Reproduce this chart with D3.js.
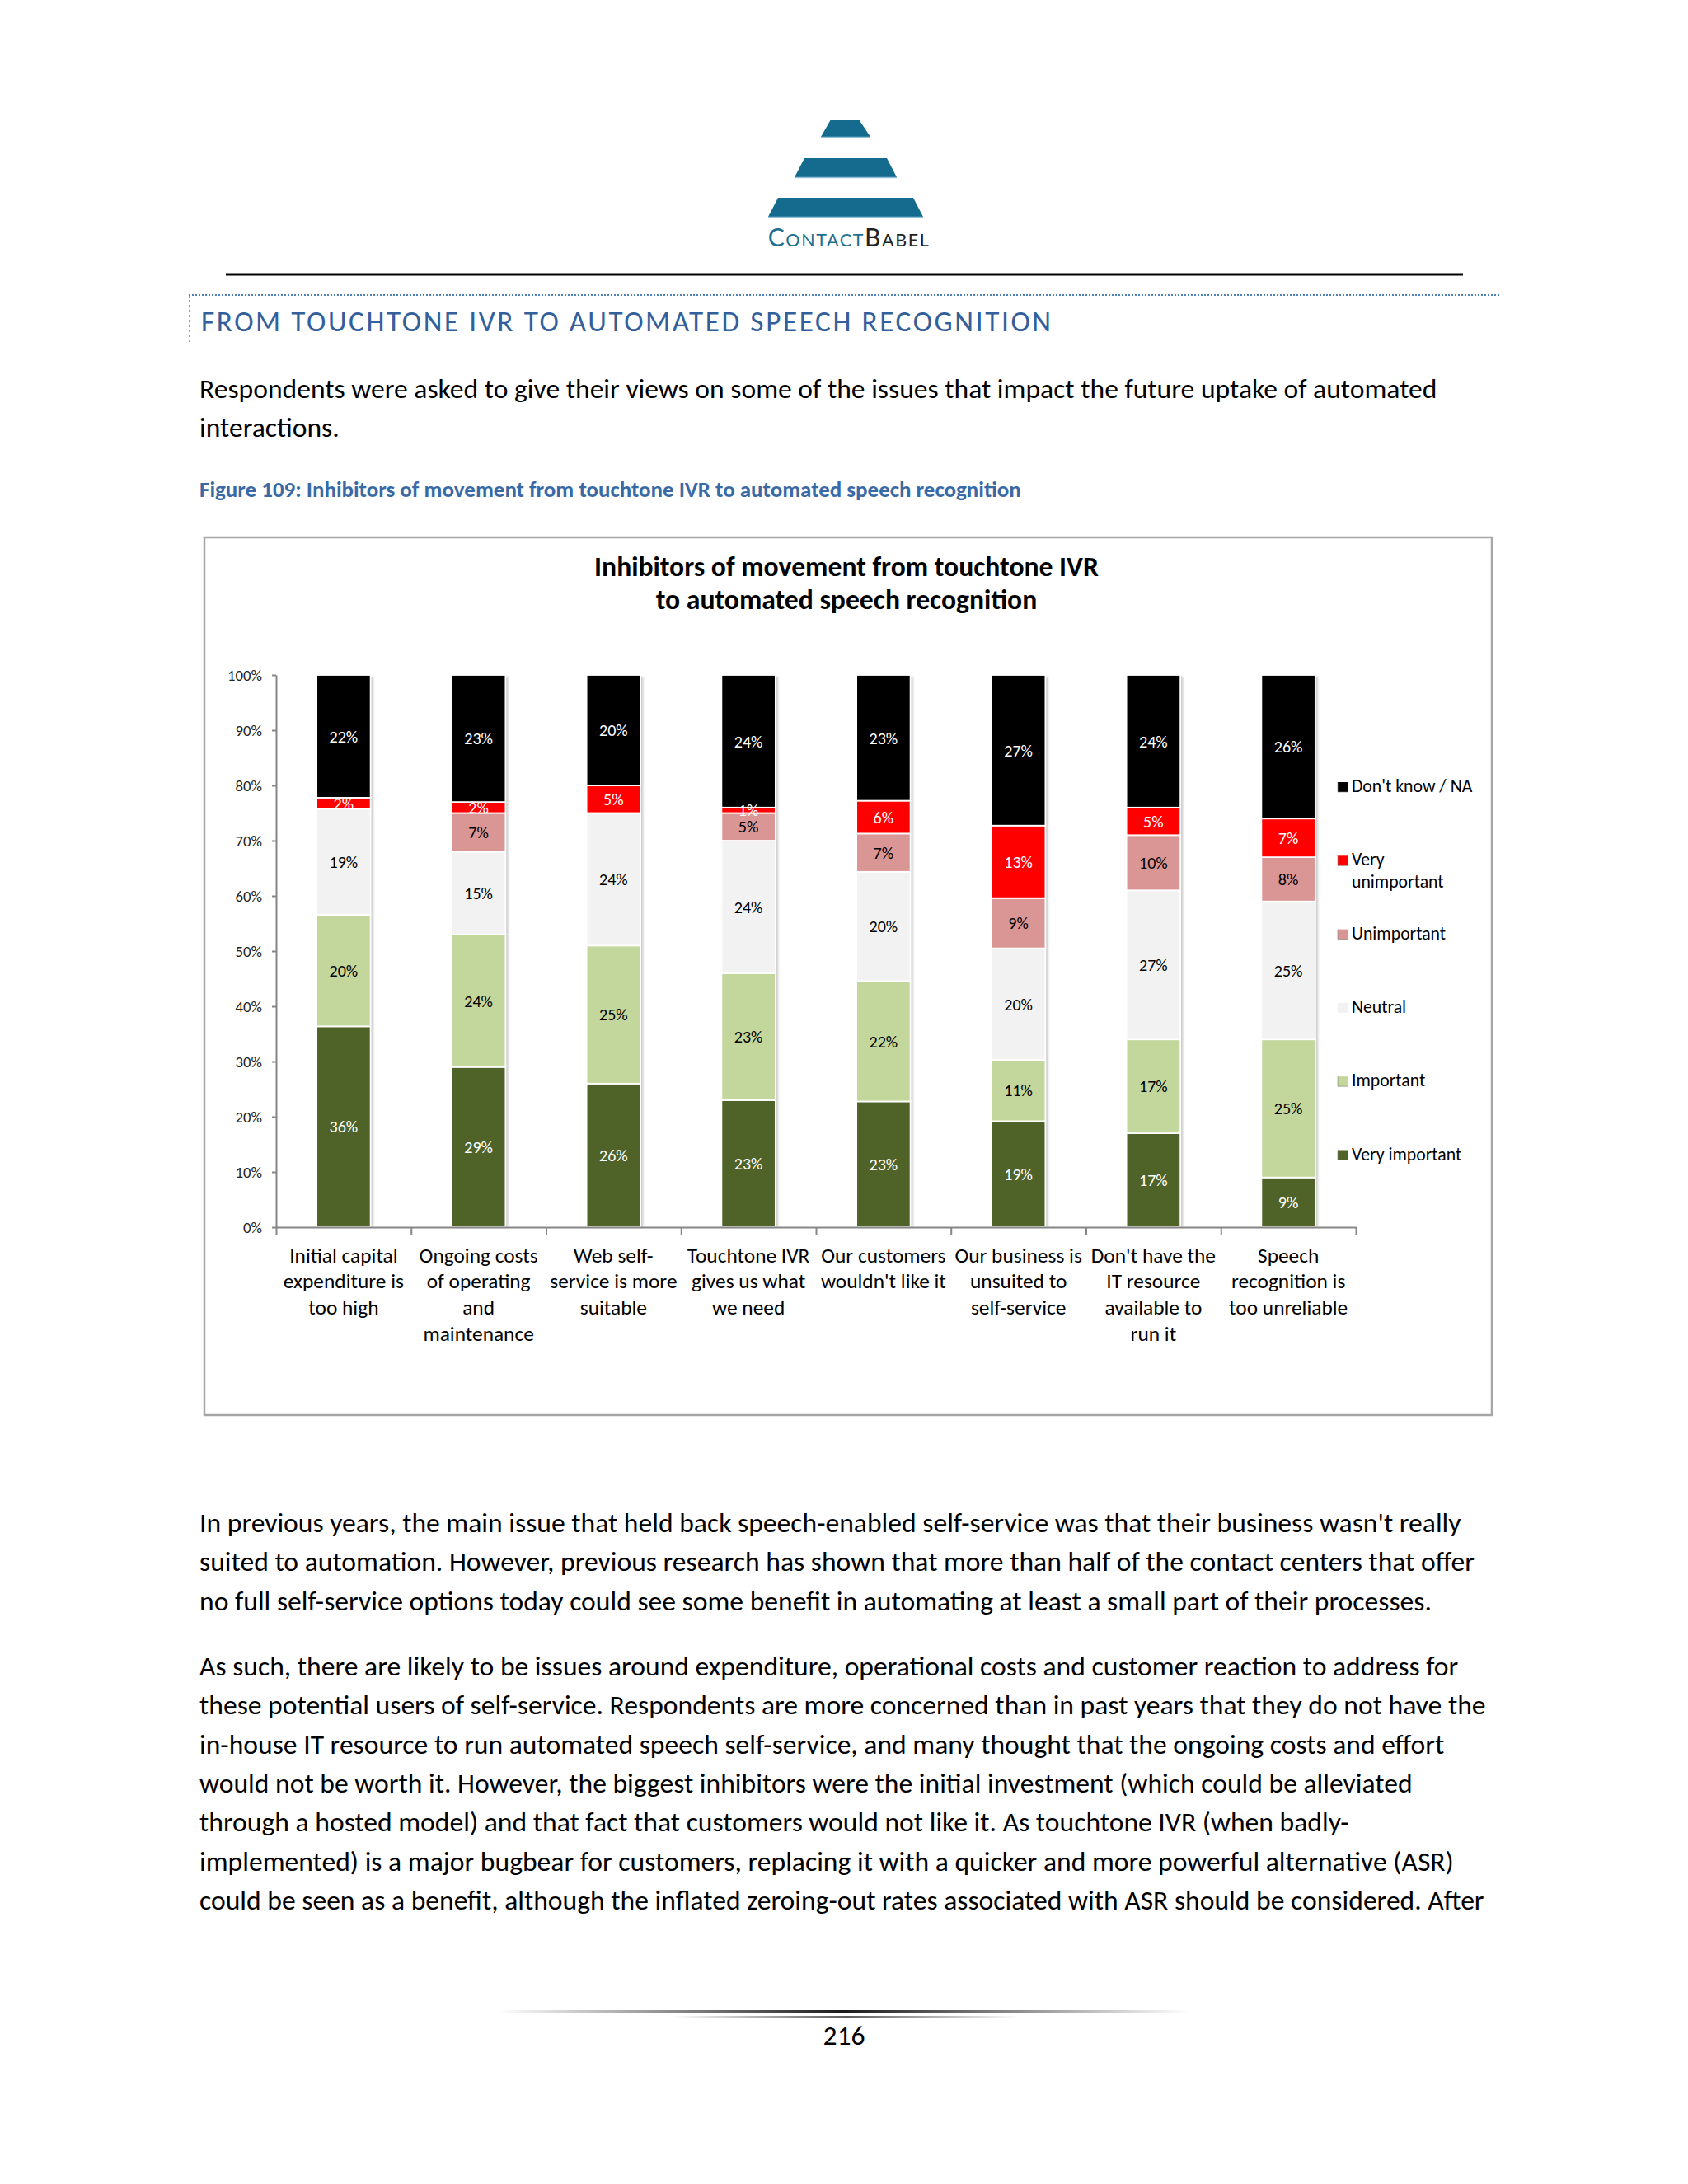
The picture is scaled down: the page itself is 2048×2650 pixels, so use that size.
<!DOCTYPE html>
<html><head><meta charset="utf-8">
<script src="https://cdn.jsdelivr.net/npm/d3@7"></script>
<style>body{margin:0;background:#fff}svg{display:block}</style>
</head><body>
<svg id="page" width="2048" height="2650"></svg>
<script>
// ---------------- DATA ----------------
const categories = [
  "Initial capital\nexpenditure is\ntoo high",
  "Ongoing costs\nof operating\nand\nmaintenance",
  "Web self-\nservice is more\nsuitable",
  "Touchtone IVR\ngives us what\nwe need",
  "Our customers\nwouldn't like it",
  "Our business is\nunsuited to\nself-service",
  "Don't have the\nIT resource\navailable to\nrun it",
  "Speech\nrecognition is\ntoo unreliable"
];
const seriesNames = ["Very important","Important","Neutral","Unimportant","Very unimportant","Don't know / NA"];
const legendLabels = ["Very important","Important","Neutral","Unimportant","Very\nunimportant","Don't know / NA"];
const veryImportant   = [36, 29, 26, 23, 23, 19, 17,  9];
const important       = [20, 24, 25, 23, 22, 11, 17, 25];
const neutral         = [19, 15, 24, 24, 20, 20, 27, 25];
const unimportant     = [ 0,  7,  0,  5,  7,  9, 10,  8];
const veryUnimportant = [ 2,  2,  5,  1,  6, 13,  5,  7];
const dontKnow        = [22, 23, 20, 24, 23, 27, 24, 26];
const yTickValues = [0,0.1,0.2,0.3,0.4,0.5,0.6,0.7,0.8,0.9,1];
const seriesColors = ["#4f6228","#c3d69b","#f2f2f2","#d99694","#ff0000","#000000"];
const labelColors  = ["#ffffff","#000000","#000000","#000000","#ffffff","#ffffff"];

const chartTitle = ["Inhibitors of movement from touchtone IVR","to automated speech recognition"];
const headingText = "FROM TOUCHTONE IVR TO AUTOMATED SPEECH RECOGNITION";
const introLines = ["Respondents were asked to give their views on some of the issues that impact the future uptake of automated","interactions."];
const captionText = "Figure 109: Inhibitors of movement from touchtone IVR to automated speech recognition";
const para1 = [
  "In previous years, the main issue that held back speech-enabled self-service was that their business wasn't really",
  "suited to automation. However, previous research has shown that more than half of the contact centers that offer",
  "no full self-service options today could see some benefit in automating at least a small part of their processes."
];
const para2 = [
  "As such, there are likely to be issues around expenditure, operational costs and customer reaction to address for",
  "these potential users of self-service. Respondents are more concerned than in past years that they do not have the",
  "in-house IT resource to run automated speech self-service, and many thought that the ongoing costs and effort",
  "would not be worth it. However, the biggest inhibitors were the initial investment (which could be alleviated",
  "through a hosted model) and that fact that customers would not like it. As touchtone IVR (when badly-",
  "implemented) is a major bugbear for customers, replacing it with a quicker and more powerful alternative (ASR)",
  "could be seen as a benefit, although the inflated zeroing-out rates associated with ASR should be considered. After"
];
const pageNumber = "216";

// ---------------- SETUP ----------------
const FONT = "Carlito, Calibri, Lato, sans-serif";
const svg = d3.select("#page");
svg.append("rect").attr("width",2048).attr("height",2650).attr("fill","#fff");

function measure(str, size, weight) {
  const t = svg.append("text").attr("font-family",FONT).attr("font-size",size)
    .attr("font-weight",weight||400).text(str);
  const w = t.node().getComputedTextLength(); t.remove(); return w;
}
const bodyFits = [[introLines[0],1508],[para1[0],1526],[para1[1],1549],[para2[1],1558],[para2[6],1558]];
const bodySize = d3.mean(bodyFits, ([s,w]) => 100*w/measure(s,100,400));
const k = bodySize/36.8;

const textColor = "#000";
const blue = "#3a6aa6";

// ---------------- LOGO ----------------
const logo = svg.append("g");
const traps = [
  {y0:145,y1:166,tl:1008,tr:1042,bl:996,br:1056},
  {y0:192,y1:215,tl:976,tr:1076,bl:964,br:1088},
  {y0:240,y1:263,tl:944,tr:1108,bl:932,br:1120}
];
traps.forEach(t=>{
  logo.append("path").attr("d",`M${t.tl},${t.y0}L${t.tr},${t.y0}L${t.br},${t.y1}L${t.bl},${t.y1}Z`).attr("fill","#146b8e");
  logo.append("line").attr("x1",t.bl).attr("x2",t.br).attr("y1",t.y1+0.5).attr("y2",t.y1+0.5).attr("stroke","#8fc0d6").attr("stroke-width",1.5);
});
const lt = logo.append("text").attr("x",1030).attr("y",299).attr("text-anchor","middle")
  .attr("font-family","Lato, 'Open Sans', sans-serif").attr("letter-spacing",1.6);
lt.append("tspan").attr("font-size",30).attr("fill","#1d6f8f").text("C");
lt.append("tspan").attr("font-size",21.5).attr("fill","#1d6f8f").text("ONTACT");
lt.append("tspan").attr("font-size",30).attr("fill","#222").text("B");
lt.append("tspan").attr("font-size",21.5).attr("fill","#222").text("ABEL");

svg.append("line").attr("x1",274).attr("x2",1775).attr("y1",333).attr("y2",333).attr("stroke","#000").attr("stroke-width",3);

svg.append("line").attr("x1",229).attr("x2",1819).attr("y1",358).attr("y2",358)
  .attr("stroke","#4f81bd").attr("stroke-width",2).attr("stroke-dasharray","2,2");
svg.append("line").attr("x1",230).attr("x2",230).attr("y1",358).attr("y2",418)
  .attr("stroke","#4f81bd").attr("stroke-width",1.5).attr("stroke-dasharray","3,3");

// heading
const headSize = 38.5*k;
const headW0 = measure(headingText, headSize, 400);
const headLS = (1031 - headW0)/(headingText.length-1);
svg.append("text").attr("x",244).attr("y",402).attr("font-family",FONT).attr("font-size",headSize)
  .attr("letter-spacing",headLS).attr("fill","#33609a").text(headingText);

introLines.forEach((l,i)=>{
  svg.append("text").attr("x",242).attr("y",483+i*47.3).attr("font-family",FONT).attr("font-size",bodySize)
    .attr("fill",textColor).text(l);
});
const capSize = 100*997/measure(captionText,100,700);
svg.append("text").attr("x",242).attr("y",603).attr("font-family",FONT).attr("font-size",capSize)
  .attr("font-weight",700).attr("fill",blue).text(captionText);

// ---------------- CHART ----------------
svg.append("rect").attr("x",248).attr("y",652).attr("width",1562).attr("height",1065)
  .attr("fill","#fff").attr("stroke","#a6a6a6").attr("stroke-width",2.5);

const titleSize = 100*612/measure(chartTitle[0],100,700);
chartTitle.forEach((l,i)=>{
  svg.append("text").attr("x",1027).attr("y",699+i*40).attr("text-anchor","middle")
    .attr("font-family",FONT).attr("font-size",titleSize).attr("font-weight",700).attr("fill","#000").text(l);
});

const seriesData = [veryImportant, important, neutral, unimportant, veryUnimportant, dontKnow];
const rows = categories.map((c,i)=>{
  const r = {cat:c};
  seriesNames.forEach((s,j)=> r[s] = seriesData[j][i]);
  return r;
});
const stacked = d3.stack().keys(seriesNames).offset(d3.stackOffsetExpand)(rows);

const y = d3.scaleLinear().domain([0,1]).range([1489,819]);
const x = d3.scaleBand().domain(categories).range([335,1645]).paddingInner(0.6).paddingOuter(0.3);
const xb = d3.scaleLinear().domain([0,categories.length]).range([335,1645]);

const defs = svg.append("defs");
defs.append("filter").attr("id","sh").attr("x","-20%").attr("y","-5%").attr("width","140%").attr("height","110%")
  .append("feGaussianBlur").attr("stdDeviation",1.6);

svg.append("g").selectAll("rect").data(rows).join("rect")
  .attr("x",d=>x(d.cat)+3).attr("y",y(1)+2).attr("width",x.bandwidth()).attr("height",y(0)-y(1)-2)
  .attr("fill","#000").attr("opacity",0.22).attr("filter","url(#sh)");

const gs = svg.append("g").selectAll("g").data(stacked).join("g")
  .attr("fill",(d,i)=>seriesColors[i]);
gs.selectAll("rect").data(d=>d.map(p=>({p,cat:p.data.cat}))).join("rect")
  .attr("x",d=>x(d.cat)).attr("y",d=>y(d.p[1])).attr("width",x.bandwidth())
  .attr("height",d=>Math.max(0,y(d.p[0])-y(d.p[1])))
  .attr("stroke","#fff").attr("stroke-width",d=>(d.p[1]-d.p[0])>0?1.8:0);

const yAxis = svg.append("g").attr("transform","translate(335,0)")
  .call(d3.axisLeft(y).tickValues(yTickValues).tickFormat(d3.format(".0%")).tickSize(5).tickSizeOuter(0).tickPadding(12));
yAxis.selectAll("text").attr("font-family",FONT).attr("font-size",20.6*k).attr("fill","#262626");
yAxis.selectAll("path,line").attr("stroke","#868686").attr("stroke-width",2);

const xAxis = svg.append("g").attr("transform","translate(0,1489)")
  .call(d3.axisBottom(xb).tickValues(d3.range(0,categories.length+1)).tickFormat("").tickSize(9).tickSizeOuter(0));
xAxis.selectAll("path,line").attr("stroke","#868686").attr("stroke-width",2);

const labels = svg.append("g").attr("font-family",FONT).attr("font-size",22*k).attr("text-anchor","middle");
stacked.forEach((s,si)=>{
  s.forEach((p,ci)=>{
    const v = seriesData[si][ci];
    if(!v) return;
    labels.append("text").attr("x",x(p.data.cat)+x.bandwidth()/2)
      .attr("y",(y(p[0])+y(p[1]))/2).attr("dy","0.36em")
      .attr("fill",labelColors[si]).text(v+"%");
  });
});

const xl = svg.append("g").attr("font-family",FONT).attr("font-size",27.8*k).attr("text-anchor","middle").attr("fill","#000");
categories.forEach(c=>{
  const t = xl.append("text").attr("x",x(c)+x.bandwidth()/2).attr("y",1531.7);
  c.split("\n").forEach((line,i)=>{
    t.append("tspan").attr("x",x(c)+x.bandwidth()/2).attr("y",1531.7+i*31.7).text(line);
  });
});

const lg = svg.append("g").attr("font-family",FONT).attr("font-size",23.8*k).attr("fill","#000");
const legendOrder = d3.range(seriesNames.length).reverse();
legendOrder.forEach((si,idx)=>{
  const by = 961 + idx*89.3;
  lg.append("rect").attr("x",1623).attr("y",by-12).attr("width",12).attr("height",12)
    .attr("fill",seriesColors[si]);
  lg.append("path").attr("d",`M1623,${by-12}V${by}H1635`).attr("fill","none").attr("stroke","#7f7f7f").attr("stroke-width",1).attr("opacity",si===2?0:0.6);
  const t = lg.append("text");
  legendLabels[si].split("\n").forEach((line,i)=>{
    t.append("tspan").attr("x",1640).attr("y",by+i*27).text(line);
  });
});

// ---------------- BODY TEXT ----------------
para1.forEach((l,i)=>{
  svg.append("text").attr("x",242).attr("y",1859+i*47.3).attr("font-family",FONT).attr("font-size",bodySize).attr("fill",textColor).text(l);
});
para2.forEach((l,i)=>{
  svg.append("text").attr("x",242).attr("y",2033+i*47.3).attr("font-family",FONT).attr("font-size",bodySize).attr("fill",textColor).text(l);
});

const g1 = defs.append("linearGradient").attr("id","fg1");
[[0,0],[0.5,1],[1,0]].forEach(([o,a])=>g1.append("stop").attr("offset",o).attr("stop-color","#1a1a1a").attr("stop-opacity",a));
svg.append("rect").attr("x",605).attr("y",2439).attr("width",837).attr("height",3).attr("fill","url(#fg1)");
svg.append("rect").attr("x",816).attr("y",2446).attr("width",421).attr("height",2.5).attr("fill","url(#fg1)").attr("opacity",0.7);
svg.append("text").attr("x",1024).attr("y",2481).attr("text-anchor","middle").attr("font-family",FONT)
  .attr("font-size",bodySize).attr("fill","#000").text(pageNumber);
</script>
</body></html>
